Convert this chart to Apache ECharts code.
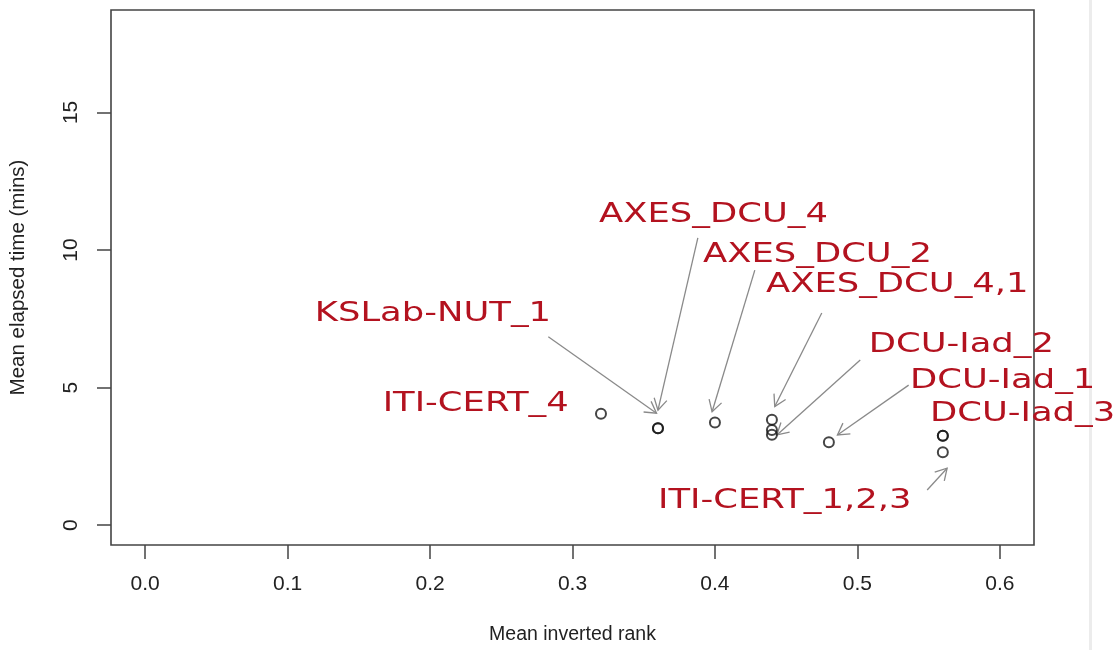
<!DOCTYPE html>
<html>
<head>
<meta charset="utf-8">
<script src="https://cdn.jsdelivr.net/npm/echarts@6/dist/echarts.min.js"></script>
<style>
  html, body { margin: 0; padding: 0; background: #ffffff; }
  #chart { width: 1120px; height: 650px; }
</style>
</head>
<body>
<div id="chart"></div>
<script>
// ---- data ----
const pointX = [0.32, 0.36, 0.36, 0.40, 0.44, 0.44, 0.44, 0.48, 0.56, 0.56, 0.56];
const pointY = [4.05, 3.52, 3.52, 3.73, 3.83, 3.46, 3.29, 3.01, 3.25, 3.25, 2.65];

const labelNames = ['AXES_DCU_4', 'AXES_DCU_2', 'AXES_DCU_4,1', 'KSLab-NUT_1', 'ITI-CERT_4',
                    'DCU-Iad_2', 'DCU-Iad_1', 'DCU-Iad_3', 'ITI-CERT_1,2,3'];
const labelX = [0.399, 0.472, 0.528, 0.202, 0.232, 0.573, 0.602, 0.616, 0.449];
const labelY = [11.28, 9.82, 8.73, 7.67, 4.40, 6.55, 5.24, 4.04, 0.88];

// arrows: from (fromX, fromY) to (toX, toY)
const arrowFromX = [0.283, 0.388, 0.428, 0.475, 0.502, 0.536, 0.549];
const arrowFromY = [6.85, 10.44, 9.27, 7.71, 6.00, 5.09, 1.28];
const arrowToX   = [0.359, 0.360, 0.398, 0.442, 0.4435, 0.486, 0.563];
const arrowToY   = [4.07, 4.18, 4.12, 4.31, 3.28, 3.28, 2.07];

const xTicks = [0, 0.1, 0.2, 0.3, 0.4, 0.5, 0.6];
const xTickLabels = ['0.0', '0.1', '0.2', '0.3', '0.4', '0.5', '0.6'];
const yTicks = [0, 5, 10, 15];
const yTickLabels = ['0', '5', '10', '15'];

const xTitle = 'Mean inverted rank';
const yTitle = 'Mean elapsed time (mins)';

// ---- build ----
const chart = echarts.init(document.getElementById('chart'), null, { renderer: 'canvas' });

function nearestLabel(v, ticks, labels) {
  let best = 0;
  for (let i = 1; i < ticks.length; i++) {
    if (Math.abs(ticks[i] - v) < Math.abs(ticks[best] - v)) best = i;
  }
  return labels[best];
}

const axisFont = 'Liberation Sans, Arial, sans-serif';
const labelRed = '#b3121f';
const arrowGray = '#8a8a8a';

const scatterData = pointX.map((x, i) => [x, pointY[i]]);
const labelData = labelX.map((x, i) => [x, labelY[i]]);
const arrowData = arrowFromX.map((x, i) => [x, arrowFromY[i], arrowToX[i], arrowToY[i]]);

const option = {
  backgroundColor: '#ffffff',
  animation: false,
  graphic: [{
    type: 'rect',
    shape: { x: 1089, y: 0, width: 3, height: 650 },
    style: { fill: '#ececec' },
    silent: true
  }],
  grid: {
    left: 111, right: 86, top: 10, bottom: 105,
    show: true,
    borderColor: '#444',
    borderWidth: 1.6,
    backgroundColor: 'transparent'
  },
  xAxis: {
    type: 'value',
    min: -0.024, max: 0.624,
    name: xTitle,
    nameLocation: 'middle',
    nameGap: 80,
    nameTextStyle: { fontFamily: axisFont, fontSize: 19.5, color: '#222' },
    splitLine: { show: false },
    axisLine: { show: false, onZero: false },
    axisTick: { show: true, inside: false, customValues: xTicks, length: 14, lineStyle: { color: '#444', width: 1.5 } },
    axisLabel: {
      customValues: xTicks,
      margin: 29,
      fontFamily: axisFont, fontSize: 21, color: '#222',
      formatter: v => nearestLabel(v, xTicks, xTickLabels)
    }
  },
  yAxis: {
    type: 'value',
    min: -0.72, max: 18.72,
    name: yTitle,
    nameLocation: 'middle',
    nameGap: 82,
    nameTextStyle: { fontFamily: axisFont, fontSize: 20.5, color: '#222' },
    splitLine: { show: false },
    axisLine: { show: false, onZero: false },
    axisTick: { show: true, inside: false, customValues: yTicks, length: 14, lineStyle: { color: '#444', width: 1.5 } },
    axisLabel: {
      customValues: yTicks,
      rotate: 90,
      margin: 29,
      fontFamily: axisFont, fontSize: 21, color: '#222',
      formatter: v => nearestLabel(v, yTicks, yTickLabels)
    }
  },
  series: [
    {
      type: 'scatter',
      data: scatterData,
      symbol: 'circle',
      symbolSize: 10,
      itemStyle: { color: 'transparent', borderColor: '#161616', borderWidth: 2 },
      z: 3
    },
    {
      type: 'custom',
      data: arrowData,
      encode: { x: [0, 2], y: [1, 3] },
      clip: false,
      z: 2,
      renderItem: function (params, api) {
        const a = api.coord([api.value(0), api.value(1)]);
        const b = api.coord([api.value(2), api.value(3)]);
        const ang = Math.atan2(b[1] - a[1], b[0] - a[0]);
        const L = 13, spread = Math.PI / 6;
        const h1 = [b[0] - L * Math.cos(ang - spread), b[1] - L * Math.sin(ang - spread)];
        const h2 = [b[0] - L * Math.cos(ang + spread), b[1] - L * Math.sin(ang + spread)];
        return {
          type: 'group',
          children: [
            { type: 'line', shape: { x1: a[0], y1: a[1], x2: b[0], y2: b[1] },
              style: { stroke: arrowGray, lineWidth: 1.3 } },
            { type: 'polyline', shape: { points: [h1, b, h2] },
              style: { stroke: arrowGray, lineWidth: 1.3, fill: null } }
          ]
        };
      }
    },
    {
      type: 'custom',
      data: labelData,
      encode: { x: 0, y: 1 },
      clip: false,
      z: 4,
      renderItem: function (params, api) {
        const p = api.coord([api.value(0), api.value(1)]);
        return {
          type: 'text',
          x: p[0], y: p[1],
          scaleX: 1.36,
          style: {
            text: labelNames[params.dataIndex],
            fill: labelRed,
            font: '26px "DejaVu Sans", Verdana, sans-serif',
            align: 'center',
            verticalAlign: 'middle'
          }
        };
      }
    }
  ]
};

chart.setOption(option);
</script>
</body>
</html>
